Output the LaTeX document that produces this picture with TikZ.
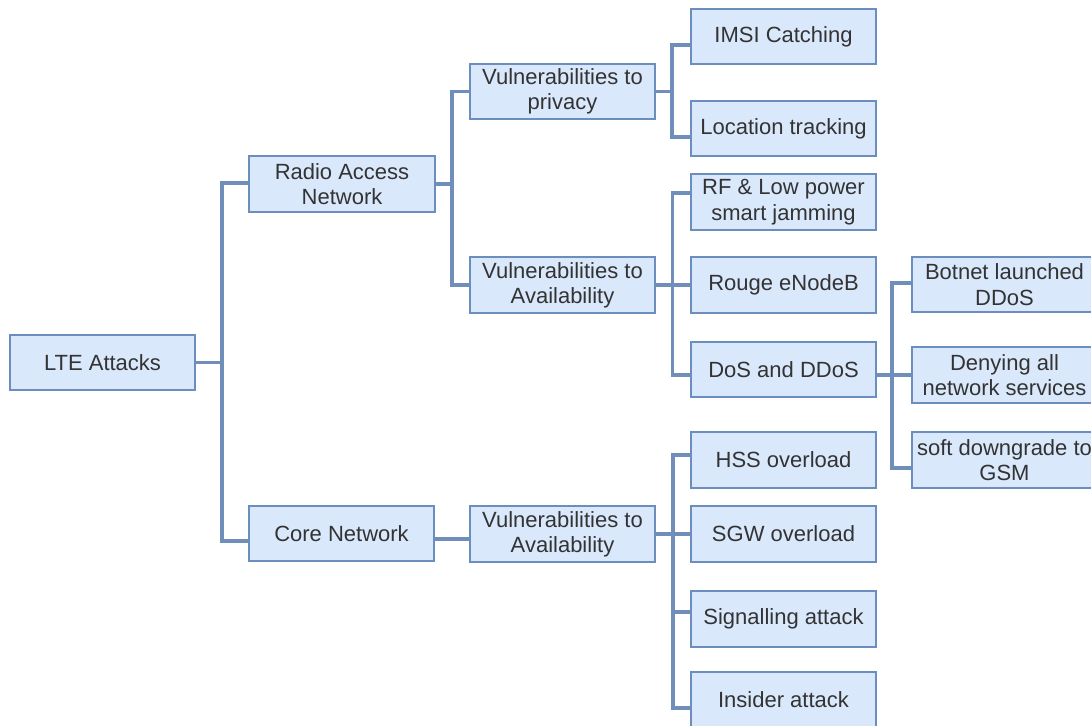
\documentclass[tikz,border=0pt]{standalone}
\usepackage{fontspec}
\setmainfont{Liberation Sans}
\usetikzlibrary{calc}
\definecolor{boxfill}{HTML}{DAE8FC}
\definecolor{boxline}{HTML}{6C8EBF}
\definecolor{linkcol}{HTML}{6F8FBA}
\definecolor{txt}{HTML}{333333}
\begin{document}
\begin{tikzpicture}[x=0.75pt,y=-0.75pt,
  box/.style={draw=boxline, fill=boxfill, line width=1.1pt,
    minimum width=138.75pt, minimum height=41.25pt, inner sep=0pt,
    align=center, text=txt, font=\fontsize{16.5}{19}\selectfont},
  link/.style={draw=linkcol, line width=2.3pt}]
\clip (0,0) rectangle (1091,725);
\useasboundingbox (0,0) rectangle (1091,725);

% level 0 and 1
\node[box] (lte)  at (102.5,362.5) {LTE Attacks};
\node[box] (ran)  at (342,184)     {Radio Access\\Network};
\node[box] (core) at (341.5,533.5) {Core Network};

% level 2
\node[box] (priv) at (562.5,91.5) {Vulnerabilities to\\privacy};
\node[box] (avr)  at (562.5,285)  {Vulnerabilities to\\Availability};
\node[box] (avc)  at (562.5,534)  {Vulnerabilities to\\Availability};

% level 3
\node[box] (imsi)  at (783.5,36.5)  {IMSI Catching};
\node[box] (loc)   at (783.5,128.5) {Location tracking};
\node[box] (rf)    at (783.5,202)   {RF \& Low power\\smart jamming};
\node[box] (rouge) at (783.5,285)   {Rouge eNodeB};
\node[box] (dos)   at (783.5,369.5) {DoS and DDoS};
\node[box] (hss)   at (783.5,460)   {HSS overload};
\node[box] (sgw)   at (783.5,534)   {SGW overload};
\node[box] (sig)   at (783.5,619)   {Signalling attack};
\node[box] (ins)   at (783.5,699.5) {Insider attack};

% level 4
\node[box] (bot)  at (1004.5,284.5) {Botnet launched\\DDoS};
\node[box] (deny) at (1004.5,375)   {Denying all\\network services};
\node[box] (soft) at (1004.5,460)   {soft downgrade to\\GSM};

% junction points of the tree
\coordinate (j0) at (222,362.5);
\coordinate (j1) at (452,184);
\coordinate (j2) at (672,91.5);
\coordinate (j3) at (672.5,285);
\coordinate (j4) at (892,375);
\coordinate (j5) at (673,534);

% LTE Attacks
\draw[link] (lte.east) -- (j0);
\draw[link] (j0) |- ($(ran.west)+(0,-1)$);
\draw[link] (j0) |- ($(core.west)+(0,7.5)$);

% Radio Access Network
\draw[link] (ran.east) -- (j1);
\draw[link] (j1) |- (priv.west);
\draw[link] (j1) |- (avr.west);

% privacy
\draw[link] (priv.east) -- (j2);
\draw[link] (j2) |- ($(imsi.west)+(0,8.5)$);
\draw[link] (j2) |- ($(loc.west)+(0,8.5)$);

% availability (radio)
\draw[link] (avr.east) -- (j3);
\draw[link] (j3) |- ($(rf.west)+(0,-9)$);
\draw[link] (j3) |- (rouge.west);
\draw[link] (j3) |- ($(dos.west)+(0,5.5)$);

% DoS and DDoS
\draw[link] ($(dos.east)+(0,5.5)$) -- (j4);
\draw[link] (j4) |- ($(bot.west)+(0,-1.5)$);
\draw[link] (j4) |- (deny.west);
\draw[link] (j4) |- ($(soft.west)+(0,8)$);

% Core Network
\draw[link] ($(core.east)+(0,5.5)$) -- ($(avc.west)+(0,5)$);
\draw[link] (avc.east) -- (j5);
\draw[link] (j5) |- ($(hss.west)+(0,-5)$);
\draw[link] (j5) |- (sgw.west);
\draw[link] (j5) |- ($(sig.west)+(0,-7)$);
\draw[link] (j5) |- ($(ins.west)+(0,8.5)$);

% redraw the boxes over the connector ends
\foreach \n in {lte,ran,core,priv,avr,avc,imsi,loc,rf,rouge,dos,hss,sgw,sig,ins,bot,deny,soft}
  \draw[boxline, line width=1.1pt] (\n.north west) rectangle (\n.south east);
\end{tikzpicture}
\end{document}
